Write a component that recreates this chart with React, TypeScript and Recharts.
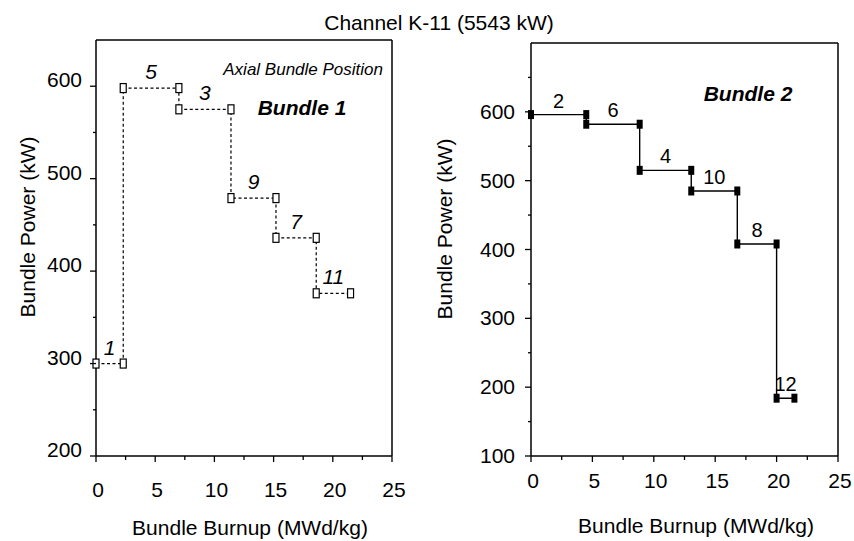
import React from "react";
import { LineChart, Line, XAxis, YAxis, ReferenceLine, ReferenceDot } from "recharts";

const FONT = '"Liberation Sans", Arial, Helvetica, sans-serif';

// Bundle 1: axial position, burnup where each stay starts/ends, and bundle power
const bundle1Positions = ["1", "5", "3", "9", "7", "11"];
const bundle1Burnup = [0, 2.3, 7.0, 11.4, 15.2, 18.6, 21.5];
const bundle1Power = [300, 598, 575, 479, 436, 376];

// Bundle 2
const bundle2Positions = ["2", "6", "4", "10", "8", "12"];
const bundle2Burnup = [0, 4.5, 8.85, 13.05, 16.8, 20.0, 21.45];
const bundle2Power = [596, 582, 515, 485, 408, 184];

const xTicks = [0, 2.5, 5, 7.5, 10, 12.5, 15, 17.5, 20, 22.5, 25];
const xTickLabels = [0, 5, 10, 15, 20, 25];
const yTicks1 = [200, 250, 300, 350, 400, 450, 500, 550, 600];
const yTickLabels1 = [200, 300, 400, 500, 600];
const yTicks2 = [100, 150, 200, 250, 300, 350, 400, 450, 500, 550, 600, 650];
const yTickLabels2 = [100, 200, 300, 400, 500, 600];

function toSteps(burnup: number[], power: number[]) {
  const pts: { x: number; y: number }[] = [];
  power.forEach((p, i) => {
    pts.push({ x: burnup[i], y: p });
    pts.push({ x: burnup[i + 1], y: p });
  });
  return pts;
}

const steps1 = toSteps(bundle1Burnup, bundle1Power);
const steps2 = toSteps(bundle2Burnup, bundle2Power);

function XTick(props: any) {
  const { x, y, payload, labelDy } = props;
  const major = xTickLabels.includes(payload.value);
  return (
    <g>
      <line x1={x} x2={x} y1={y} y2={y + (major ? 6 : 4)} stroke="#000" strokeWidth={1.3} />
      {major && (
        <text x={x + 2} y={y + labelDy} textAnchor="middle" fontSize={21} fontFamily={FONT} fill="#000">
          {payload.value}
        </text>
      )}
    </g>
  );
}

function YTick(props: any) {
  const { x, y, payload, labels, labelDx, labelDy } = props;
  const major = labels.includes(payload.value);
  return (
    <g>
      <line x1={x - (major ? 6 : 3)} x2={x} y1={y} y2={y} stroke="#000" strokeWidth={1.3} />
      {major && (
        <text x={x - labelDx} y={y + labelDy} textAnchor="end" fontSize={21} fontFamily={FONT} fill="#000">
          {payload.value}
        </text>
      )}
    </g>
  );
}

function OpenBox(props: any) {
  const { cx, cy, index } = props;
  return <rect key={`o-${index}`} x={cx - 3} y={cy - 4.5} width={6} height={9} fill="#fff" stroke="#000" strokeWidth={1.2} />;
}

function FilledBox(props: any) {
  const { cx, cy, index } = props;
  return <rect key={`f-${index}`} x={cx - 3} y={cy - 4.5} width={6} height={9} fill="#000" />;
}

export default function App() {
  return (
    <div style={{ position: "absolute", left: 0, top: 0, width: 854, height: 541, background: "#fff", fontFamily: FONT }}>
      <svg width={854} height={541} style={{ position: "absolute", left: 0, top: 0 }}>
        <text x={439} y={30} textAnchor="middle" fontSize={21} fontFamily={FONT} fill="#000">
          Channel K-11 (5543 kW)
        </text>
        <text transform="translate(35,227) rotate(-90)" textAnchor="middle" fontSize={21} fontFamily={FONT} fill="#000">
          Bundle Power (kW)
        </text>
        <text transform="translate(452,229) rotate(-90)" textAnchor="middle" fontSize={21} fontFamily={FONT} fill="#000">
          Bundle Power (kW)
        </text>
        <text x={250} y={535} textAnchor="middle" fontSize={21} fontFamily={FONT} fill="#000">
          Bundle Burnup (MWd/kg)
        </text>
        <text x={696} y={533} textAnchor="middle" fontSize={21} fontFamily={FONT} fill="#000">
          Bundle Burnup (MWd/kg)
        </text>
        <text x={383} y={75} textAnchor="end" fontSize={17} fontStyle="italic" fontFamily={FONT} fill="#000">
          Axial Bundle Position
        </text>
        <text x={302} y={115} textAnchor="middle" fontSize={21} fontStyle="italic" fontWeight="bold" fontFamily={FONT} fill="#000">
          Bundle 1
        </text>
        <text x={748} y={101} textAnchor="middle" fontSize={21} fontStyle="italic" fontWeight="bold" fontFamily={FONT} fill="#000">
          Bundle 2
        </text>
      </svg>

      <div style={{ position: "absolute", left: 0, top: 0 }}>
        <LineChart width={430} height={541} data={steps1} margin={{ top: 40, right: 38, bottom: 0, left: 0 }}>
          <XAxis
            dataKey="x"
            type="number"
            domain={[0, 25]}
            ticks={xTicks}
            interval={0}
            height={85}
            tickSize={0}
            tickMargin={0}
            tickLine={false}
            axisLine={{ stroke: "#000", strokeWidth: 1.5 }}
            tick={(p: any) => <XTick {...p} labelDy={41} />}
          />
          <YAxis
            type="number"
            domain={[200, 650]}
            allowDataOverflow
            ticks={yTicks1}
            interval={0}
            width={96}
            tickSize={0}
            tickMargin={0}
            tickLine={false}
            axisLine={{ stroke: "#000", strokeWidth: 1.5 }}
            tick={(p: any) => <YTick {...p} labels={yTickLabels1} labelDx={14} labelDy={1} />}
          />
          <ReferenceLine y={650} stroke="#000" strokeWidth={1.5} />
          <ReferenceLine x={25} stroke="#000" strokeWidth={1.5} />
          <Line
            dataKey="y"
            type="linear"
            stroke="#000"
            strokeWidth={1.2}
            strokeDasharray="3 2.5"
            dot={OpenBox}
            activeDot={false}
            isAnimationActive={false}
          />
          {bundle1Positions.map((pos, i) => (
            <ReferenceDot
              key={pos}
              x={(bundle1Burnup[i] + bundle1Burnup[i + 1]) / 2}
              y={bundle1Power[i]}
              r={0}
              fill="none"
              stroke="none"
              label={{ value: pos, position: "top", offset: 9, fontSize: 21, fontStyle: "italic", fill: "#000", fontFamily: FONT }}
            />
          ))}
        </LineChart>
      </div>

      <div style={{ position: "absolute", left: 430, top: 0 }}>
        <LineChart width={424} height={541} data={steps2} margin={{ top: 43, right: 16, bottom: 0, left: 0 }}>
          <XAxis
            dataKey="x"
            type="number"
            domain={[0, 25]}
            ticks={xTicks}
            interval={0}
            height={85}
            tickSize={0}
            tickMargin={0}
            tickLine={false}
            axisLine={{ stroke: "#000", strokeWidth: 1.5 }}
            tick={(p: any) => <XTick {...p} labelDy={32} />}
          />
          <YAxis
            type="number"
            domain={[100, 700]}
            allowDataOverflow
            ticks={yTicks2}
            interval={0}
            width={101}
            tickSize={0}
            tickMargin={0}
            tickLine={false}
            axisLine={{ stroke: "#000", strokeWidth: 1.5 }}
            tick={(p: any) => <YTick {...p} labels={yTickLabels2} labelDx={16} labelDy={7} />}
          />
          <ReferenceLine y={700} stroke="#000" strokeWidth={1.5} />
          <ReferenceLine x={25} stroke="#000" strokeWidth={1.5} />
          <Line
            dataKey="y"
            type="linear"
            stroke="#000"
            strokeWidth={1.4}
            dot={FilledBox}
            activeDot={false}
            isAnimationActive={false}
          />
          {bundle2Positions.map((pos, i) => (
            <ReferenceDot
              key={pos}
              x={(bundle2Burnup[i] + bundle2Burnup[i + 1]) / 2}
              y={bundle2Power[i]}
              r={0}
              fill="none"
              stroke="none"
              label={{ value: pos, position: "top", offset: 7, fontSize: 20, fill: "#000", fontFamily: FONT }}
            />
          ))}
        </LineChart>
      </div>
    </div>
  );
}
